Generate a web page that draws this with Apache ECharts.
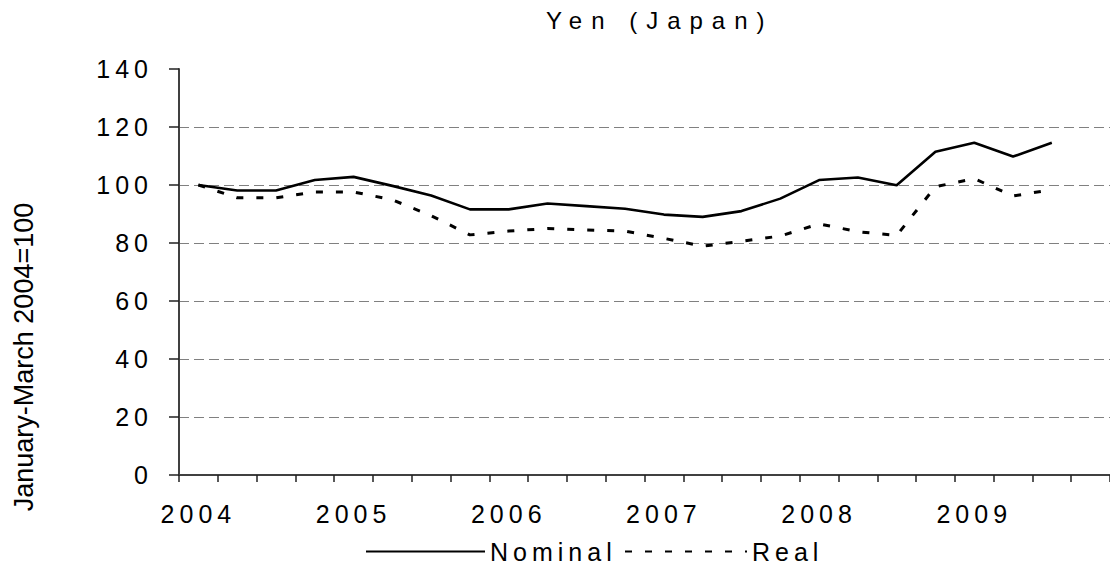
<!DOCTYPE html>
<html>
<head>
<meta charset="utf-8">
<script src="https://cdn.jsdelivr.net/npm/echarts@6.0.0/dist/echarts.min.js"></script>
<style>
  html, body { margin: 0; padding: 0; background: #fff; }
  #chart { width: 1110px; height: 569px; }
  /* the reference uses wide letter spacing on axis text, title and legend */
  #chart text[style*="25px"] { letter-spacing: 5px; }
  #chart text[style*="24px"] { letter-spacing: 9px; }
</style>
</head>
<body>
<div id="chart"></div>
<script>
// quarters, 2004 Q1 .. 2009 Q4
const quarters = [
  '2004 Q1', '2004 Q2', '2004 Q3', '2004 Q4',
  '2005 Q1', '2005 Q2', '2005 Q3', '2005 Q4',
  '2006 Q1', '2006 Q2', '2006 Q3', '2006 Q4',
  '2007 Q1', '2007 Q2', '2007 Q3', '2007 Q4',
  '2008 Q1', '2008 Q2', '2008 Q3', '2008 Q4',
  '2009 Q1', '2009 Q2', '2009 Q3', '2009 Q4'
]
const yearLabels = ['2004', '2005', '2006', '2007', '2008', '2009']
const yTicks = [0, 20, 40, 60, 80, 100, 120, 140]

// index, January-March 2004 = 100
const nominal = [100, 98.1, 98.1, 101.7, 102.8, 99.7, 96.4, 91.6, 91.6, 93.6, 92.7, 91.8,
  89.8, 89.0, 91.0, 95.3, 101.7, 102.6, 99.9, 111.5, 114.6, 109.8, 114.6]
const real = [100, 95.6, 95.6, 97.6, 97.6, 94.9, 89.4, 82.8, 84.1, 85.0, 84.5, 84.1,
  81.6, 78.9, 80.6, 82.4, 86.6, 83.9, 82.6, 99.4, 102.2, 96.2, 98.4]

const FONT = '"Liberation Sans", Arial, sans-serif'

const chart = echarts.init(document.getElementById('chart'), null, { renderer: 'svg' })

chart.setOption({
  animation: false,
  backgroundColor: '#fff',
  title: {
    text: 'Yen (Japan)',
    left: 541,
    top: 3,
    textStyle: { fontSize: 24, fontWeight: 'normal', color: '#000', fontFamily: FONT }
  },
  // two single-item legends so each keeps its own line length
  legend: [
    {
      data: ['Nominal'],
      left: 360,
      top: 534,
      itemWidth: 119,
      itemHeight: 16,
      itemGap: 0,
      itemStyle: { opacity: 0 },
      textStyle: { fontSize: 25, color: '#000', fontFamily: FONT }
    },
    {
      data: ['Real'],
      left: 619,
      top: 534,
      itemWidth: 122,
      itemHeight: 16,
      itemGap: 0,
      itemStyle: { opacity: 0 },
      textStyle: { fontSize: 25, color: '#000', fontFamily: FONT }
    }
  ],
  grid: {
    left: 179,
    right: -7,
    top: 69,
    bottom: 94,
    containLabel: false
  },
  xAxis: {
    type: 'category',
    data: quarters,
    boundaryGap: true,
    axisLine: { show: true, lineStyle: { color: '#404040', width: 2 } },
    axisTick: { show: true, interval: 0, length: 7, lineStyle: { color: '#202020', width: 1.5 } },
    axisLabel: {
      interval: 3,
      margin: 26,
      fontSize: 25,
      color: '#000',
      fontFamily: FONT,
      formatter: (value, index) => yearLabels[index / 4] || ''
    },
    splitLine: { show: false }
  },
  yAxis: {
    type: 'value',
    min: yTicks[0],
    max: yTicks[yTicks.length - 1],
    interval: 20,
    axisLine: { show: true, lineStyle: { color: '#404040', width: 2 } },
    axisTick: { show: true, length: 10, lineStyle: { color: '#202020', width: 1.5 } },
    axisLabel: { margin: 26, fontSize: 25, color: '#000', fontFamily: FONT },
    splitLine: {
      show: true,
      showMinLine: false,
      showMaxLine: false,
      lineStyle: { color: '#808080', width: 1, type: [10, 5] }
    }
  },
  series: [
    {
      name: 'Nominal',
      type: 'line',
      data: nominal,
      symbol: 'none',
      lineStyle: { color: '#000', width: 2.6, type: 'solid' },
      itemStyle: { color: '#000' }
    },
    {
      name: 'Real',
      type: 'line',
      data: real,
      symbol: 'none',
      lineStyle: { color: '#000', width: 3, type: [7, 13] },
      itemStyle: { color: '#000' }
    }
  ],
  graphic: [
    {
      type: 'text',
      x: 24,
      y: 357,
      rotation: Math.PI / 2,
      style: {
        text: 'January-March 2004=100',
        font: '27px "Liberation Sans", Arial, sans-serif',
        fill: '#000',
        align: 'center',
        textAlign: 'center',
        verticalAlign: 'middle',
        textVerticalAlign: 'middle'
      }
    }
  ]
})
</script>
</body>
</html>
